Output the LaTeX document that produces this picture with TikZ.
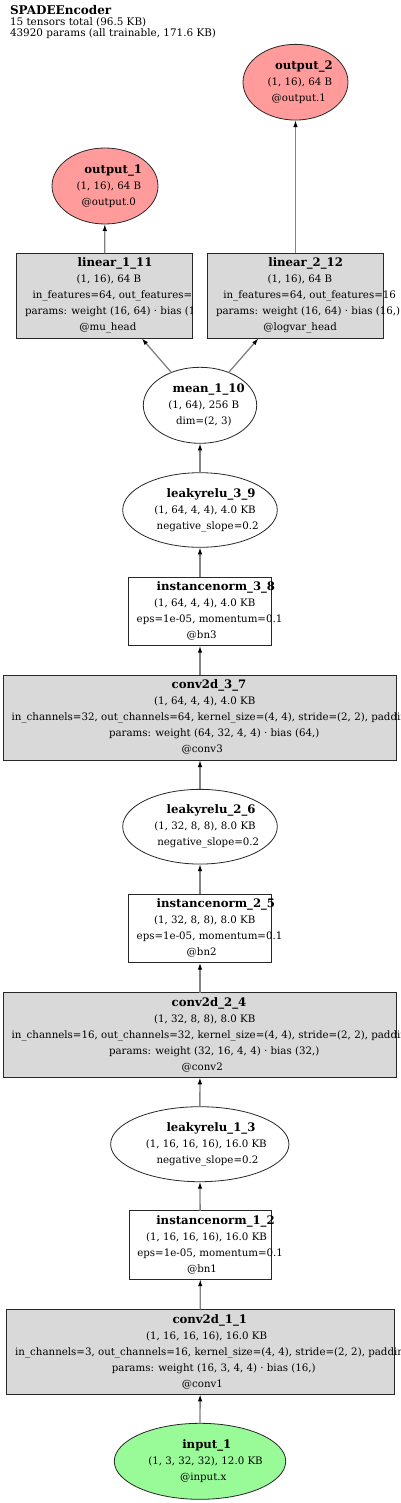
\documentclass[tikz,border=0pt]{standalone}
\usepackage{fontspec}
\setmainfont{DejaVu Serif}
\usetikzlibrary{shapes.geometric,arrows.meta}
\definecolor{boxgray}{RGB}{217,217,217}
\definecolor{outred}{RGB}{255,155,155}
\definecolor{ingreen}{RGB}{152,251,152}
\definecolor{edgegray}{RGB}{130,130,130}
\definecolor{bordercol}{RGB}{40,40,40}
\newcommand\Ln[2]{\makebox[0pt][l]{\hspace*{#1pt}#2}}
\newcommand\Lbl[1]{\begin{tabular}{@{}c@{}}#1\end{tabular}}
\newcommand\Bn[1]{{\fontsize{11.7}{16}\selectfont\bfseries #1}}
\begin{document}
\begin{tikzpicture}[x=1pt,y=-1pt,
  every node/.style={inner sep=0pt, outer sep=0pt},
  nodefont/.style={font=\fontsize{10.25}{16}\selectfont},
  graybox/.style={nodefont, rectangle, draw=bordercol, line width=0.8pt, fill=boxgray},
  whitebox/.style={nodefont, rectangle, draw=bordercol, line width=0.8pt, fill=white},
  oval/.style={nodefont, ellipse, draw=bordercol, line width=0.8pt, fill=white},
  outoval/.style={oval, fill=outred},
  inoval/.style={oval, fill=ingreen},
  edge/.style={draw=edgegray, line width=1.3pt, -{Latex[length=7pt,width=4.5pt,color=black]}},
]
\useasboundingbox (0,0) rectangle (400,1503);
\fill[white] (0,0) rectangle (400,1503);

% title
\node[anchor=base west, font=\fontsize{10.4}{11.3}\selectfont] (title) at (10,14.3)
  {\begin{tabular}[t]{@{}l@{}}{\fontsize{12}{11.3}\selectfont\bfseries SPADEEncoder}\\15 tensors total (96.5 KB)\\43920 params (all trainable, 171.6 KB)\end{tabular}};

% outputs
\node[outoval, minimum width=105, minimum height=75.7] (out2) at (295.5,82.2)
  {\Lbl{\Ln{-20.5}{\Bn{output\_2}}\\ \Ln{-27.8}{(1, 16), 64 B}\\ \Ln{-23.8}{@output.1}}};
\node[outoval, minimum width=106, minimum height=76] (out1) at (105,186)
  {\Lbl{\Ln{-20.7}{\Bn{output\_1}}\\ \Ln{-28.3}{(1, 16), 64 B}\\ \Ln{-23.3}{@output.0}}};

% linear heads
\node[graybox, minimum width=176, minimum height=85] (lin1) at (104.7,295.8) {};
\begin{scope}
\clip (lin1.south west) rectangle (lin1.north east);
\node[nodefont] (lin1t) at (lin1.center)
  {\Lbl{\Ln{-27}{\Bn{linear\_1\_11}}\\ \Ln{-28}{(1, 16), 64 B}\\ \Ln{-72}{in\_features=64, out\_features=16}\\ \Ln{-79.7}{params: weight (16, 64) · bias (16,)}\\ \Ln{-25.4}{@mu\_head}}};
\end{scope}
\node[graybox, minimum width=175.6, minimum height=85] (lin2) at (295.5,295.8)
  {\Lbl{\Ln{-27.2}{\Bn{linear\_2\_12}}\\ \Ln{-27.8}{(1, 16), 64 B}\\ \Ln{-72.2}{in\_features=64, out\_features=16}\\ \Ln{-79.5}{params: weight (16, 64) · bias (16,)}\\ \Ln{-32.2}{@logvar\_head}}};

% mean
\node[oval, minimum width=113.4, minimum height=76] (mean) at (200,405.3)
  {\Lbl{\Ln{-27.3}{\Bn{mean\_1\_10}}\\ \Ln{-31.7}{(1, 64), 256 B}\\ \Ln{-24}{dim=(2, 3)}}};

% block 3
\node[oval, minimum width=154.6, minimum height=74.6] (lr3) at (200,510)
  {\Lbl{\Ln{-33.3}{\Bn{leakyrelu\_3\_9}}\\ \Ln{-45.7}{(1, 64, 4, 4), 4.0 KB}\\ \Ln{-43.3}{negative\_slope=0.2}}};
\node[whitebox, minimum width=143.4, minimum height=68.4] (in3) at (200,611.5)
  {\Lbl{\Ln{-43.3}{\Bn{instancenorm\_3\_8}}\\ \Ln{-46}{(1, 64, 4, 4), 4.0 KB}\\ \Ln{-63.3}{eps=1e-05, momentum=0.1}\\ \Ln{-13.3}{@bn3}}};
\node[graybox, minimum width=393.4, minimum height=85] (cv3) at (200,717.5)
  {\Lbl{\Ln{-28.3}{\Bn{conv2d\_3\_7}}\\ \Ln{-46}{(1, 64, 4, 4), 4.0 KB}\\ \Ln{-188.3}{in\_channels=32, out\_channels=64, kernel\_size=(4, 4), stride=(2, 2), padding=(1, 1)}\\ \Ln{-91}{params: weight (64, 32, 4, 4) · bias (64,)}\\ \Ln{-18.3}{@conv3}}};

% block 2
\node[oval, minimum width=154.6, minimum height=74.7] (lr2) at (200,826.7)
  {\Lbl{\Ln{-33.3}{\Bn{leakyrelu\_2\_6}}\\ \Ln{-45.7}{(1, 32, 8, 8), 8.0 KB}\\ \Ln{-42.7}{negative\_slope=0.2}}};
\node[whitebox, minimum width=143.4, minimum height=68.4] (in2) at (200,928.5)
  {\Lbl{\Ln{-43.3}{\Bn{instancenorm\_2\_5}}\\ \Ln{-46}{(1, 32, 8, 8), 8.0 KB}\\ \Ln{-63.3}{eps=1e-05, momentum=0.1}\\ \Ln{-13.3}{@bn2}}};
\node[graybox, minimum width=393.4, minimum height=84.6] (cv2) at (200,1035)
  {\Lbl{\Ln{-28.3}{\Bn{conv2d\_2\_4}}\\ \Ln{-46}{(1, 32, 8, 8), 8.0 KB}\\ \Ln{-188.3}{in\_channels=16, out\_channels=32, kernel\_size=(4, 4), stride=(2, 2), padding=(1, 1)}\\ \Ln{-91}{params: weight (32, 16, 4, 4) · bias (32,)}\\ \Ln{-18.3}{@conv2}}};

% block 1
\node[oval, minimum width=178.3, minimum height=75] (lr1) at (199.8,1144.2)
  {\Lbl{\Ln{-33.3}{\Bn{leakyrelu\_1\_3}}\\ \Ln{-54}{(1, 16, 16, 16), 16.0 KB}\\ \Ln{-43.3}{negative\_slope=0.2}}};
\node[whitebox, minimum width=142.7, minimum height=68.4] (in1) at (200.3,1245)
  {\Lbl{\Ln{-44}{\Bn{instancenorm\_1\_2}}\\ \Ln{-54.3}{(1, 16, 16, 16), 16.0 KB}\\ \Ln{-63}{eps=1e-05, momentum=0.1}\\ \Ln{-13.3}{@bn1}}};
\node[graybox, minimum width=388.3, minimum height=85] (cv1) at (200.2,1351.8)
  {\Lbl{\Ln{-27.7}{\Bn{conv2d\_1\_1}}\\ \Ln{-54}{(1, 16, 16, 16), 16.0 KB}\\ \Ln{-185}{in\_channels=3, out\_channels=16, kernel\_size=(4, 4), stride=(2, 2), padding=(1, 1)}\\ \Ln{-88.3}{params: weight (16, 3, 4, 4) · bias (16,)}\\ \Ln{-18.3}{@conv1}}};

% input
\node[inoval, minimum width=171.4, minimum height=76] (inp) at (200,1461.3)
  {\Lbl{\Ln{-17.7}{\Bn{input\_1}}\\ \Ln{-51.7}{(1, 3, 32, 32), 12.0 KB}\\ \Ln{-20}{@input.x}}};

% edges
\draw[edge] (inp) -- (cv1);
\draw[edge] (cv1) -- (in1);
\draw[edge] (in1) -- (lr1);
\draw[edge] (lr1) -- (cv2);
\draw[edge] (cv2) -- (in2);
\draw[edge] (in2) -- (lr2);
\draw[edge] (lr2) -- (cv3);
\draw[edge] (cv3) -- (in3);
\draw[edge] (in3) -- (lr3);
\draw[edge] (lr3) -- (mean);
\draw[edge] (mean) -- (lin1);
\draw[edge] (mean) -- (lin2);
\draw[edge] (lin1.north) -- (out1);
\draw[edge] (lin2.north) -- (out2);
\end{tikzpicture}
\end{document}
